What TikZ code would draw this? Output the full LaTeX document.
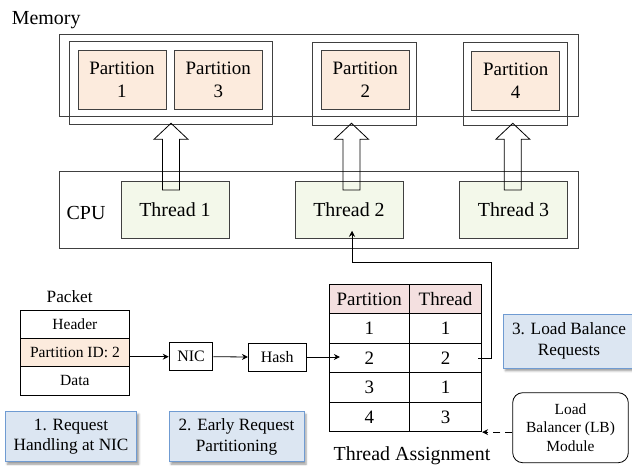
\documentclass[tikz,border=0pt]{standalone}
\usepackage{fontspec}
\setmainfont{Liberation Serif}
\usetikzlibrary{arrows.meta,calc,shadows.blur}
\definecolor{partfill}{HTML}{FCEBDD}
\definecolor{thrfill}{HTML}{F3F8EA}
\definecolor{headfill}{HTML}{F4E0E0}
\definecolor{stepfill}{HTML}{DCE6F2}
\definecolor{stepline}{HTML}{6F9BD2}
\definecolor{boxline}{HTML}{404040}

\begin{document}
\begin{tikzpicture}[x=1bp,y=-1bp,
  every node/.style={inner sep=0pt, font=\fontsize{19}{23}\selectfont},
  outerbox/.style={draw=boxline, line width=0.8bp},
  partbox/.style={draw=boxline, line width=0.8bp, fill=partfill, align=center,
    minimum width=88bp, minimum height=59bp},
  thrbox/.style={draw=boxline, line width=0.8bp, fill=thrfill,
    minimum width=108bp, minimum height=57.3bp, font=\fontsize{20}{23}\selectfont},
  cell/.style={draw=black, line width=0.8bp, minimum height=29.5bp},
  pktrow/.style={draw=black, line width=0.8bp, minimum width=108.3bp, minimum height=28.3bp,
    font=\fontsize{15.6}{18}\selectfont},
  smallbox/.style={draw=black, line width=0.8bp, minimum height=28bp,
    font=\fontsize{16}{18}\selectfont},
  stepnote/.style={draw=stepline, line width=0.9bp, fill=stepfill, align=center,
    font=\fontsize{17.3}{21}\selectfont,
    blur shadow={shadow xshift=2bp, shadow yshift=-2.5bp, shadow blur radius=2bp}},
  link/.style={-{Stealth[length=6bp,width=6bp]}, line width=0.8bp},
  blockarrow/.style={draw=black, line width=0.8bp, line join=miter}]
  \useasboundingbox (0,0) rectangle (632,466);

  % Memory
  \node[anchor=base west, font=\fontsize{20}{23}\selectfont] (memlabel) at (11.7,25) {Memory};
  \node[outerbox, minimum width=519bp, minimum height=82.4bp] (mem) at (318.7,75.5) {};
  \node[outerbox, minimum width=203bp, minimum height=83.3bp] (grp1) at (170.5,82.8) {};
  \node[outerbox, minimum width=104bp, minimum height=83bp] (grp2) at (364.7,83.8) {};
  \node[outerbox, minimum width=104bp, minimum height=83bp] (grp3) at (515.7,83.8) {};
  \node[partbox] (p1) at (121.9,79.5) {Partition\\1};
  \node[partbox] (p3) at (218.3,79.5) {Partition\\3};
  \node[partbox] (p2) at (365.3,79.5) {Partition\\2};
  \node[partbox] (p4) at (515.7,80.5) {Partition\\4};

  % CPU
  \node[outerbox, minimum width=519bp, minimum height=77.3bp] (cpu) at (318.5,209.7) {};
  \node[anchor=base west, font=\fontsize{20}{23}\selectfont] (cpulabel) at (66.5,220) {CPU};
  \node[thrbox] (t1) at (175,209.7) {Thread 1};
  \node[thrbox] (t2) at (349,209.7) {Thread 2};
  \node[thrbox] (t3) at (513.5,209.7) {Thread 3};

  % block arrows thread -> partitions
  \foreach \ax in {171,351.5,512.8}
    \draw[blockarrow] (\ax-8.5,190) -- (\ax-8.5,139.3) -- (\ax-17,139.3) -- (\ax,123.3)
      -- (\ax+17,139.3) -- (\ax+8.5,139.3) -- (\ax+8.5,190) -- cycle;

  % Packet
  \node[anchor=base, font=\fontsize{17.3}{20}\selectfont] (pktlabel) at (69.7,302.7) {Packet};
  \node[pktrow] (hdr) at (74.9,324.2) {Header};
  \node[pktrow, fill=partfill] (pid) at (74.9,352.5) {Partition ID: 2};
  \node[pktrow] (data) at (74.9,380.8) {Data};

  \node[smallbox, minimum width=43.7bp] (nic) at (191,356.7) {NIC};
  \node[smallbox, minimum width=57.7bp] (hash) at (277.2,357) {Hash};

  % Thread assignment table
  \node[cell, fill=headfill, minimum width=80bp] (h1) at (369.3,299) {Partition};
  \node[cell, fill=headfill, minimum width=72.4bp] (h2) at (445.5,299) {Thread};
  \foreach \p/\t [count=\i] in {1/1,2/2,3/1,4/3} {
    \node[cell, minimum width=80bp] (c\i1) at (369.3,299+29.5*\i) {\p};
    \node[cell, minimum width=72.4bp] (c\i2) at (445.5,299+29.5*\i) {\t};
  }
  \node[anchor=base, font=\fontsize{20}{23}\selectfont] (tablabel) at (412,460.5) {Thread Assignment};
  \coordinate (hin) at ($(c21.west)+(11,0)$);

  % request path
  \draw[link] (pid.east |- nic.west) -- (nic.west);
  \draw[link] (nic.east) -- (hash.west);
  \draw[link] (hash.east) -- (hash.east -| hin);
  \draw[link] ($(c22.east)+(-4,0)$) -- ++(13.5,0) |- ($(t2.south)+(3,24)$) -- ($(t2.south)+(3,-8)$);

  % steps
  \node[stepnote, minimum width=131.7bp, minimum height=50bp] (s1) at (71,436.7) {1. Request\\Handling at NIC};
  \node[stepnote, minimum width=135bp, minimum height=50bp] (s2) at (236.5,436.7) {2. Early Request\\Partitioning};
  \node[stepnote, minimum width=131.4bp, minimum height=54.3bp] (s3) at (569,341.2) {3. Load Balance\\Requests};

  % load balancer
  \node[draw=black, line width=0.8bp, rounded corners=10bp, align=center,
    minimum width=115.6bp, minimum height=70bp, font=\fontsize{15.5}{19}\selectfont]
    (lb) at (570.5,427.7) {Load\\Balancer (LB)\\Module};
  \draw[link, dashed, dash pattern=on 7bp off 5bp] (lb.west |- c42.south east) -- (c42.south east);
\end{tikzpicture}
\end{document}
